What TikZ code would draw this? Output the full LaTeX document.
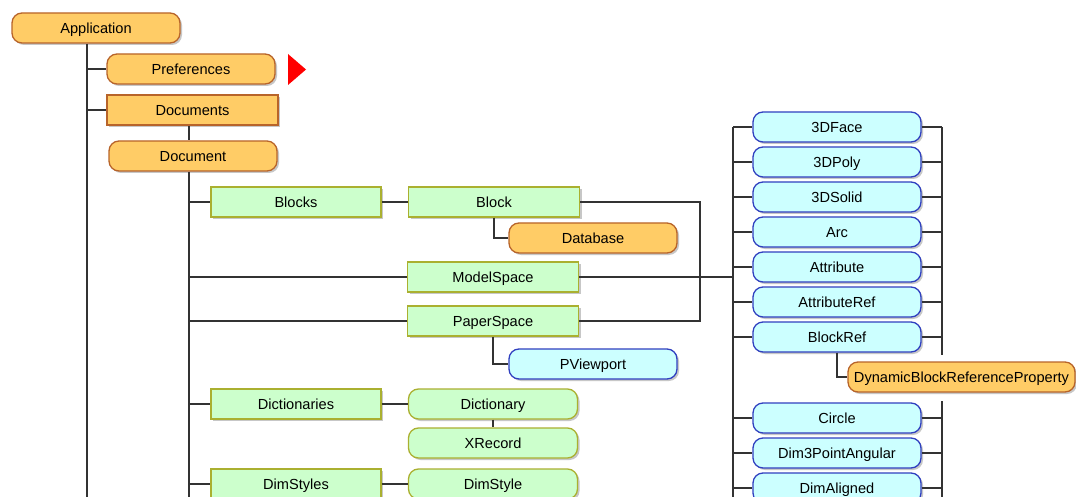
\documentclass[tikz,border=0pt]{standalone}
\usepackage{fontspec}
\setmainfont{Liberation Sans}
\usetikzlibrary{shadows}
\definecolor{orfill}{HTML}{FFCC66}
\definecolor{orline}{HTML}{B8642A}
\definecolor{grfill}{HTML}{CCFFCC}
\definecolor{grline}{HTML}{AAB030}
\definecolor{blfill}{HTML}{CCFFFF}
\definecolor{blline}{HTML}{3040C0}
\definecolor{wirecol}{HTML}{333333}
\begin{document}
\begin{tikzpicture}[x=1pt,y=-1pt,
  box/.style={draw, line width=1.3pt, inner sep=0pt, minimum height=30pt,
    minimum width=168pt, text height=10.4pt, text depth=0pt,
    font=\fontsize{14.6}{16}\selectfont,
    drop shadow={shadow xshift=2pt, shadow yshift=-2pt, fill=black!22, opacity=1}},
  rbox/.style={box, rounded corners=10pt},
  orbox/.style={fill=orfill, draw=orline},
  grbox/.style={fill=grfill, draw=grline},
  blbox/.style={fill=blfill, draw=blline},
  wire/.style={line width=1.75pt, draw=wirecol}]
\clip (0,0) rectangle (1076,497);
\fill[white] (0,0) rectangle (1076,497);

% trunk and bus positions
\coordinate (t1) at (87,0);
\coordinate (t2) at (189,0);
\coordinate (jx) at (700,0);
\coordinate (lb) at (733,0);
\coordinate (rb) at (942,0);
\coordinate (bot) at (0,497);
\coordinate (rbend) at (942,355);
\coordinate (rbres) at (942,401);

% application branch
\node[rbox, orbox] (app) at (96,28) {Application};
\node[rbox, orbox] (pref) at (191,69) {Preferences};
\node[box, orbox, minimum width=171pt] (docs) at (192.5,110) {Documents};
\node[rbox, orbox] (doc) at (193,156) {Document};
\fill[red] (288,54) -- (306,69.5) -- (288,85) -- cycle;

% document collections
\node[box, grbox, minimum width=170pt] (blocks) at (296,202) {Blocks};
\node[box, grbox, minimum width=171pt] (block) at (494,202) {Block};
\node[rbox, orbox] (database) at (593,238) {Database};
\node[box, grbox, minimum width=171pt] (modelspace) at (493,277) {ModelSpace};
\node[box, grbox, minimum width=171pt] (paperspace) at (493,321) {PaperSpace};
\node[rbox, blbox] (pviewport) at (593,364) {PViewport};
\node[box, grbox, minimum width=170pt] (dicts) at (296,404) {Dictionaries};
\node[rbox, grbox, minimum width=169pt] (dict) at (493,404) {Dictionary};
\node[rbox, grbox, minimum width=169pt] (xrecord) at (493,443) {XRecord};
\node[box, grbox, minimum width=170pt] (dimstyles) at (296,484) {DimStyles};
\node[rbox, grbox, minimum width=169pt] (dimstyle) at (493,484) {DimStyle};

% entity column
\node[rbox, blbox] (e1) at (837,127) {3DFace};
\node[rbox, blbox] (e2) at (837,162) {3DPoly};
\node[rbox, blbox] (e3) at (837,197) {3DSolid};
\node[rbox, blbox] (e4) at (837,232) {Arc};
\node[rbox, blbox] (e5) at (837,267) {Attribute};
\node[rbox, blbox] (e6) at (837,302) {AttributeRef};
\node[rbox, blbox] (e7) at (837,337) {BlockRef};
\node[rbox, orbox, minimum width=227pt] (dbrp) at (961.5,377) {DynamicBlockReferenceProperty};
\node[rbox, blbox] (e8) at (837,418) {Circle};
\node[rbox, blbox] (e9) at (837,453) {Dim3PointAngular};
\node[rbox, blbox] (e10) at (837,488) {DimAligned};

% connectors: application
\draw[wire] (app.south -| t1) -- (t1 |- bot);
\draw[wire] (pref.west -| t1) -- (pref.west);
\draw[wire] (docs.west -| t1) -- (docs.west);
\draw[wire] (docs.south -| t2) -- (doc.north -| t2);

% connectors: document
\draw[wire] (doc.south -| t2) -- (t2 |- bot);
\foreach \n in {blocks, modelspace, paperspace, dicts, dimstyles}
  \draw[wire] (\n.west -| t2) -- (\n.west);
\draw[wire] (blocks.east) -- (block.west);
\draw[wire] (block.south) |- (database.west);
\draw[wire] (paperspace.south) |- (pviewport.west);
\draw[wire] (dicts.east) -- (dict.west);
\draw[wire] (dict.south) -- (xrecord.north);
\draw[wire] (dimstyles.east) -- (dimstyle.west);

% connectors: spaces to entities
\draw[wire] (block.east) -- (block.east -| jx) -- (paperspace.east -| jx) -- (paperspace.east);
\draw[wire] (modelspace.east) -- (modelspace.east -| lb);

% connectors: entity buses
\draw[wire] (e1.west -| lb) -- (lb |- bot);
\draw[wire] (e1.east -| rb) -- (rbend);
\draw[wire] (rbres) -- (rb |- bot);
\foreach \n in {e1, e2, e3, e4, e5, e6, e7, e8, e9, e10} {
  \draw[wire] (\n.west -| lb) -- (\n.west);
  \draw[wire] (\n.east) -- (\n.east -| rb);
}
\draw[wire] (e7.south) |- (dbrp.west);
\end{tikzpicture}
\end{document}
